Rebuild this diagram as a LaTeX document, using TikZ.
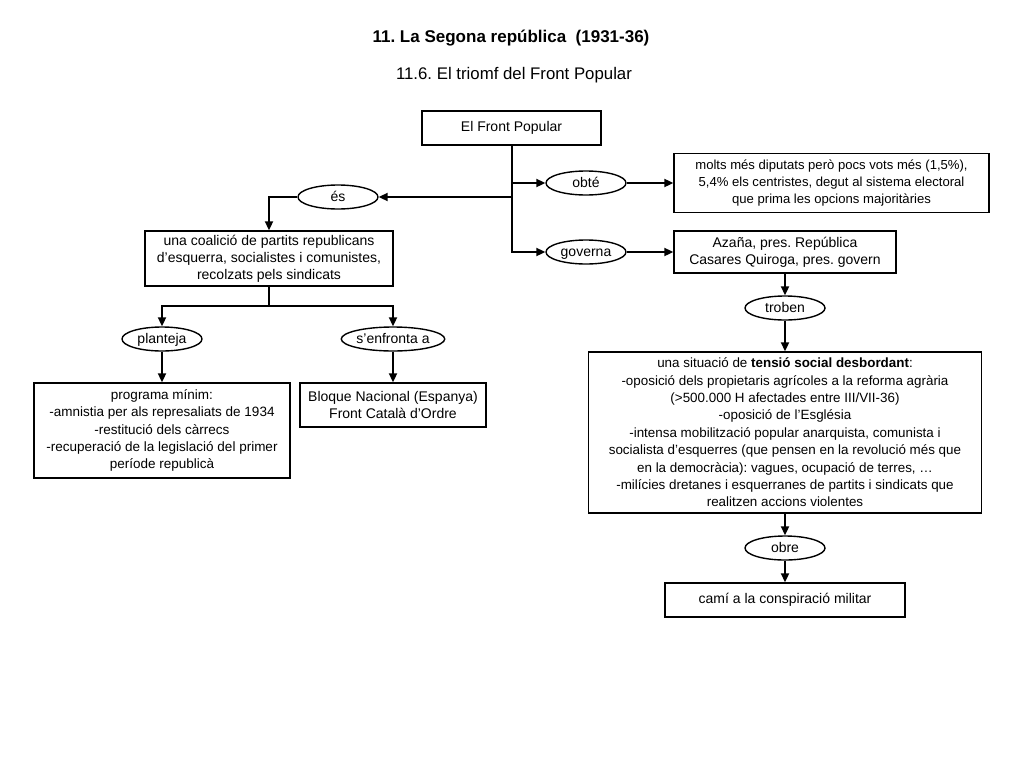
\documentclass[tikz,border=0pt]{standalone}
\usepackage{fontspec}
\setmainfont{Liberation Sans}
\usetikzlibrary{shapes.geometric,arrows.meta}
\begin{document}
\frenchspacing
\begin{tikzpicture}[x=1pt,y=-1pt,
  box/.style={draw,line width=1.4pt,align=center,inner sep=0pt,font=\fontsize{14}{17}\selectfont},
  oval/.style={draw,ellipse,line width=1.4pt,inner sep=0pt,minimum width=80pt,minimum height=24pt,text height=11pt,text depth=1.5pt,font=\fontsize{14}{15}\selectfont},
  conn/.style={line width=2pt},
  arr/.style={conn,-{Triangle[length=9pt,width=8pt]}}]
\useasboundingbox[fill=white] (0,0) rectangle (1024,768);
\node[font=\bfseries\fontsize{17}{20}\selectfont] (title) at (511,38) {11. La Segona república \ (1931-36)};
\node[font=\fontsize{16.8}{20}\selectfont] (sub) at (514,75) {11.6. El triomf del Front Popular};
\node[box,minimum width=179pt,minimum height=34pt] (fp) at (511.5,128) {El Front Popular};
\node[oval] (obte) at (586,183) {obté};
\node[oval] (es) at (338,197) {és};
\node[oval] (gov) at (586,252) {governa};
\node[box,minimum width=315pt,minimum height=59pt,font=\fontsize{13.1}{17}\selectfont] (molts) at (831.5,183) {molts més diputats però pocs vots més (1,5\%),\\5,4\% els centristes, degut al sistema electoral\\que prima les opcions majoritàries};
\node[box,minimum width=222pt,minimum height=42pt] (az) at (785,252) {Azaña, pres. República\\Casares Quiroga, pres. govern};
\node[oval] (trob) at (785,308) {troben};
\node[box,minimum width=393pt,minimum height=161pt,font=\fontsize{13.4}{17.4}\selectfont] (sit) at (785,432.5) {una situació de \textbf{tensió social desbordant}:\\-oposició dels propietaris agrícoles a la reforma agrària\\(>500.000 H afectades entre III/VII-36)\\-oposició de l’Església\\-intensa mobilització popular anarquista, comunista i\\socialista d’esquerres (que pensen en la revolució més que\\en la democràcia): vagues, ocupació de terres, …\\-milícies dretanes i esquerranes de partits i sindicats que\\realitzen accions violentes};
\node[oval] (obre) at (785,548) {obre};
\node[box,minimum width=240pt,minimum height=34pt] (cami) at (785,600) {camí a la conspiració militar};
\node[box,minimum width=248pt,minimum height=55pt] (coal) at (269,258.5) {una coalició de partits republicans\\d’esquerra, socialistes i comunistes,\\recolzats pels sindicats};
\node[oval] (plan) at (162,339) {planteja};
\node[oval,minimum width=100pt] (enf) at (393,339) {s’enfronta a};
\node[box,minimum width=256pt,minimum height=95pt,font=\fontsize{13.5}{17.3}\selectfont] (prog) at (162,430.5) {programa mínim:\\-amnistia per als represaliats de 1934\\-restitució dels càrrecs\\-recuperació de la legislació del primer\\període republicà};
\node[box,minimum width=186pt,minimum height=44pt] (bloq) at (393,405) {Bloque Nacional (Espanya)\\Front Català d’Ordre};
\coordinate (j1) at (fp.south |- obte.west);
\coordinate (j2) at (fp.south |- es.east);
\coordinate (j3) at (coal.south |- 0,306);
\draw[arr] (fp.south) |- (gov.west);
\draw[arr] (j1) -- (obte.west);
\draw[arr] (j2) -- (es.east);
\draw[arr] (es.west) -| (coal.north);
\draw[arr] (obte.east) -- (molts.west);
\draw[arr] (gov.east) -- (az.west);
\draw[arr] (az.south) -- (trob.north);
\draw[arr] (trob.south) -- (sit.north);
\draw[arr] (sit.south) -- (obre.north);
\draw[arr] (obre.south) -- (cami.north);
\draw[conn] (coal.south) -- (j3);
\draw[arr] (j3) -| (plan.north);
\draw[arr] (j3) -| (enf.north);
\draw[arr] (plan.south) -- (prog.north);
\draw[arr] (enf.south) -- (bloq.north);
\end{tikzpicture}
\end{document}
